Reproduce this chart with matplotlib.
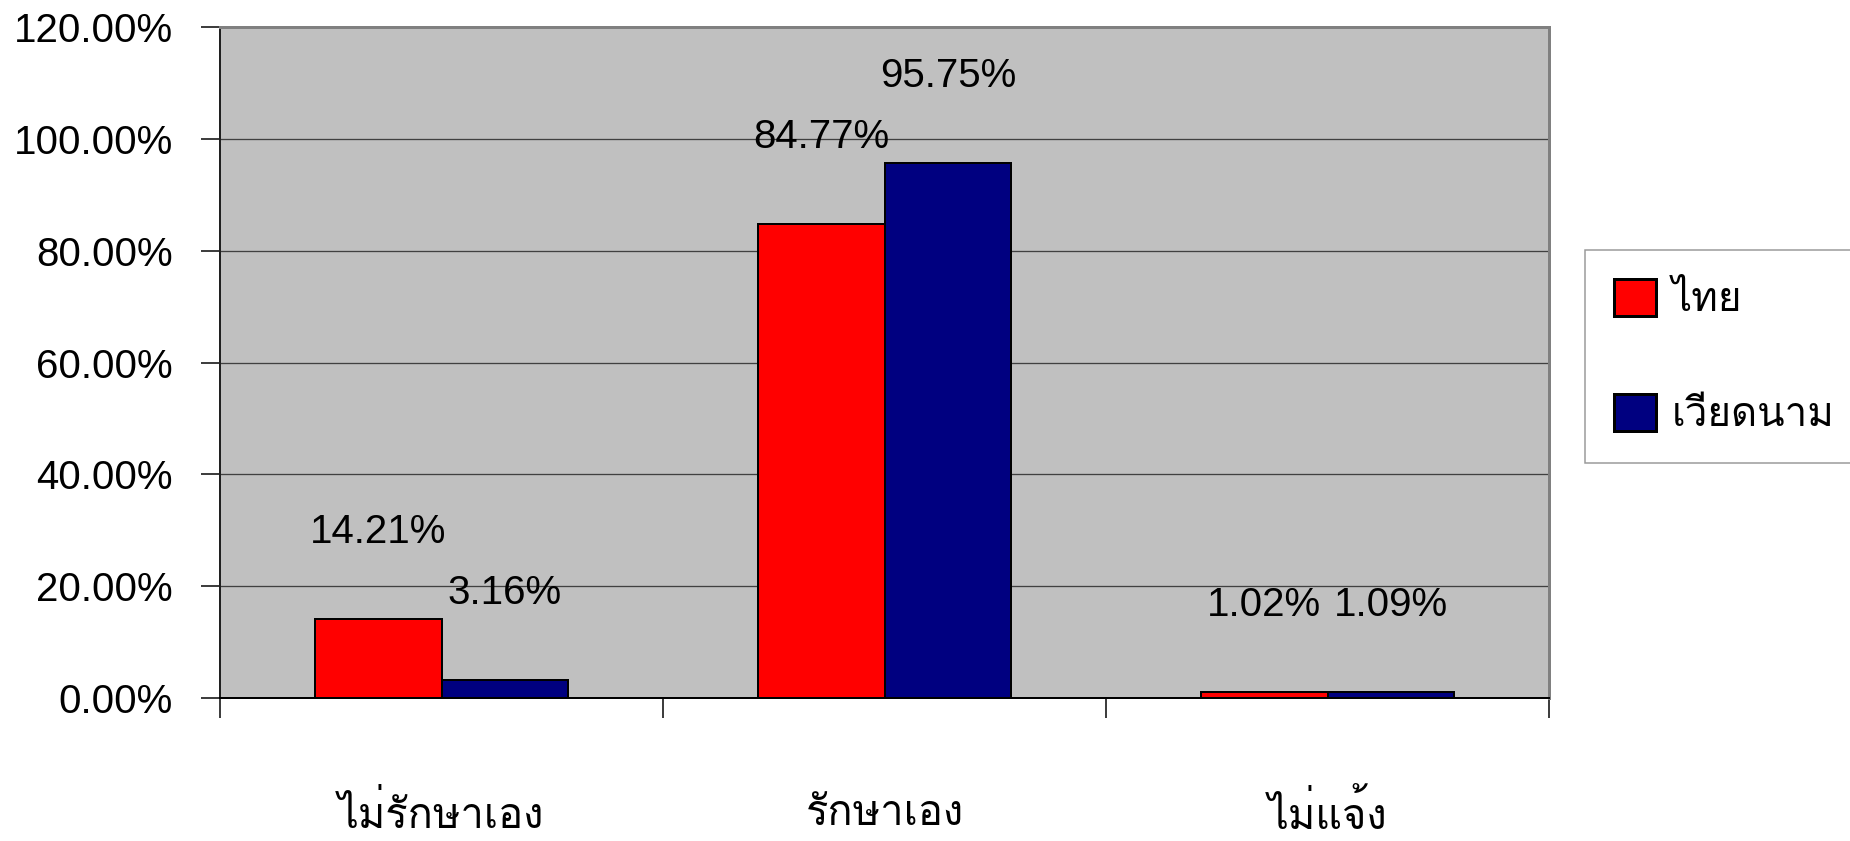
import matplotlib
matplotlib.use("Agg")
import matplotlib.pyplot as plt
import numpy as np
from matplotlib.patches import Patch
from matplotlib.ticker import FuncFormatter, FixedLocator

categories = ["ไม่รักษาเอง", "รักษาเอง", "ไม่แจ้ง"]
series_names = ["ไทย", "เวียดนาม"]
thai_values = [14.21, 84.77, 1.02]
viet_values = [3.16, 95.75, 1.09]
y_ticks = [0, 20, 40, 60, 80, 100, 120]

num_font = ["Liberation Sans", "Loma", "DejaVu Sans"]
thai_font = ["Loma", "Liberation Sans", "DejaVu Sans"]
plt.rcParams["font.family"] = num_font

W, H = 1850, 841
dpi = 100
px = 72 / dpi  # points per pixel
fig = plt.figure(figsize=(W / dpi, H / dpi), dpi=dpi)
L, R, T, B = 220, 1549, 27, 698
ax = fig.add_axes([L / W, 1 - B / H, (R - L) / W, (B - T) / H])
ax.set_facecolor("#C0C0C0")

x = np.arange(len(categories))
bw = 1 / 3.5
colors = ["#FF0000", "#000080"]
for i, vals in enumerate([thai_values, viet_values]):
    xs = x + (i - 0.5) * bw
    ax.bar(xs, vals, width=bw, color=colors[i], edgecolor="black",
           linewidth=2 * px, zorder=3)
    for xi, v in zip(xs, vals):
        ax.annotate(f"{v:.2f}%", (xi, v), xytext=(0, 87 * px),
                    textcoords="offset points", ha="center", va="center",
                    fontsize=29, zorder=5)

ax.set_xlim(-0.5, len(categories) - 0.5)
ax.set_ylim(0, 120)
ax.set_yticks(y_ticks)
ax.yaxis.set_major_formatter(FuncFormatter(lambda v, p: f"{v:.2f}%"))
ax.yaxis.grid(True, color="#404040", linewidth=1.3 * px, zorder=1)
ax.set_axisbelow(True)
ax.tick_params(axis="y", length=19 * px, width=1.5 * px, color="black",
               labelsize=29, pad=28 * px)

ax.set_xticks(x)
ax.set_xticklabels(categories, fontsize=30, family=thai_font, va="center")
ax.tick_params(axis="x", which="major", length=0, pad=117 * px)
ax.xaxis.set_minor_locator(FixedLocator(np.arange(len(categories) + 1) - 0.5))
ax.tick_params(axis="x", which="minor", length=20 * px, width=1.5 * px,
               color="black")

for s in ["top", "right"]:
    ax.spines[s].set_color("#808080")
    ax.spines[s].set_linewidth(3 * px)
ax.spines["left"].set_color("#202020")
ax.spines["left"].set_linewidth(2 * px)
ax.spines["bottom"].set_color("black")
ax.spines["bottom"].set_linewidth(2 * px)

handles = [Patch(facecolor=c, edgecolor="black", linewidth=3 * px) for c in colors]
leg = fig.legend(handles, series_names, loc="upper left",
                 bbox_to_anchor=(1585 / W, 1 - 250 / H), bbox_transform=fig.transFigure,
                 borderaxespad=0, prop={"family": thai_font, "size": 29},
                 handlelength=1.04, handleheight=1.04,
                 labelspacing=1.85, borderpad=0.72, handletextpad=0.4,
                 frameon=True, fancybox=False)
leg.get_frame().set_edgecolor("#808080")
leg.get_frame().set_linewidth(1.5 * px)

fig.savefig("out.png", dpi=dpi)
